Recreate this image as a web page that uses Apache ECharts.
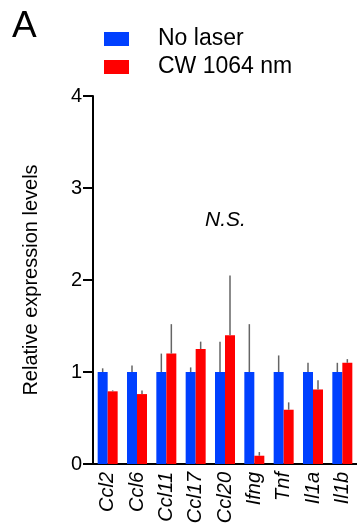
<!DOCTYPE html>
<html>
<head>
<meta charset="utf-8">
<script src="https://cdn.jsdelivr.net/npm/echarts@6/dist/echarts.min.js"></script>
<style>
  html, body { margin: 0; padding: 0; background: #fff; }
  #chart { width: 357px; height: 529px; }
</style>
</head>
<body>
<div id="chart"></div>
<script>
// genes along the x axis
const genes = ['Ccl2', 'Ccl6', 'Ccl11', 'Ccl17', 'Ccl20', 'Ifng', 'Tnf', 'Il1a', 'Il1b'];
// relative expression, means
const noLaser = [1, 1, 1, 1, 1, 1, 1, 1, 1];
const cw1064 = [0.79, 0.76, 1.20, 1.25, 1.40, 0.09, 0.59, 0.81, 1.10];
// upper error (added on top of the mean)
const noLaserErr = [0.04, 0.07, 0.20, 0.05, 0.33, 0.52, 0.18, 0.10, 0.10];
const cw1064Err = [0.01, 0.04, 0.32, 0.08, 0.65, 0.04, 0.08, 0.10, 0.04];
const yTicks = [0, 1, 2, 3, 4];

const BLUE = '#0040ff';
const RED = '#ff0000';
const FONT = 'Liberation Sans, Arial, sans-serif';

const chart = echarts.init(document.getElementById('chart'));

// one-sided error bar drawn from bar top upwards, shifted onto its bar
function errorBar(offset) {
  return function (params, api) {
    const lo = api.coord([api.value(0), api.value(1)]);
    const hi = api.coord([api.value(0), api.value(2)]);
    return {
      type: 'line',
      shape: { x1: lo[0] + offset, y1: lo[1], x2: hi[0] + offset, y2: hi[1] },
      style: { stroke: '#656565', lineWidth: 1.5 }
    };
  };
}

const option = {
  animation: false,
  title: {
    text: 'A', left: 7, top: 3,
    textStyle: { fontFamily: FONT, fontSize: 37, fontWeight: 'normal', color: '#000' }
  },
  legend: {
    orient: 'vertical', left: 104, top: 25, padding: 0, itemGap: 0,
    itemWidth: 25, itemHeight: 14,
    icon: 'rect',
    data: ['No laser', 'CW 1064 nm'],
    textStyle: { fontFamily: FONT, fontSize: 23, color: '#000', lineHeight: 28, padding: [0, 0, 0, 24] }
  },
  graphic: [{
    type: 'text', left: 205, top: 210,
    style: { text: 'N.S.', fontFamily: FONT, fontSize: 21, fontStyle: 'italic', fill: '#000' }
  }],
  grid: { left: 93, right: 0, top: 96, bottom: 65, containLabel: false },
  xAxis: {
    type: 'category',
    data: genes,
    axisLine: { lineStyle: { color: '#000', width: 2 } },
    axisTick: { alignWithLabel: true, length: 4, lineStyle: { color: '#000', width: 1.5 } },
    axisLabel: {
      rotate: 90, margin: 8, interval: 0,
      fontFamily: FONT, fontSize: 20, fontStyle: 'italic', color: '#000'
    }
  },
  yAxis: {
    type: 'value', min: 0, max: 4, interval: 1,
    name: 'Relative expression levels',
    nameLocation: 'middle', nameGap: 52,
    nameTextStyle: { fontFamily: FONT, fontSize: 20, color: '#000' },
    axisLine: { show: true, lineStyle: { color: '#000', width: 2 } },
    axisTick: { show: true, length: 10, lineStyle: { color: '#000', width: 2 } },
    axisLabel: {
      margin: 11, fontFamily: FONT, fontSize: 20, color: '#000',
      formatter: v => (yTicks.includes(v) ? String(v) : '')
    },
    splitLine: { show: false }
  },
  series: [
    {
      name: 'No laser', type: 'bar', data: noLaser,
      barWidth: 10, barGap: '0%', itemStyle: { color: BLUE }
    },
    {
      name: 'CW 1064 nm', type: 'bar', data: cw1064,
      barWidth: 10, barGap: '0%', itemStyle: { color: RED }
    },
    {
      type: 'custom', z: 5,
      renderItem: errorBar(-5),
      data: genes.map((g, i) => [i, noLaser[i], noLaser[i] + noLaserErr[i]])
    },
    {
      type: 'custom', z: 5,
      renderItem: errorBar(5),
      data: genes.map((g, i) => [i, cw1064[i], cw1064[i] + cw1064Err[i]])
    }
  ]
};

chart.setOption(option);
</script>
</body>
</html>
